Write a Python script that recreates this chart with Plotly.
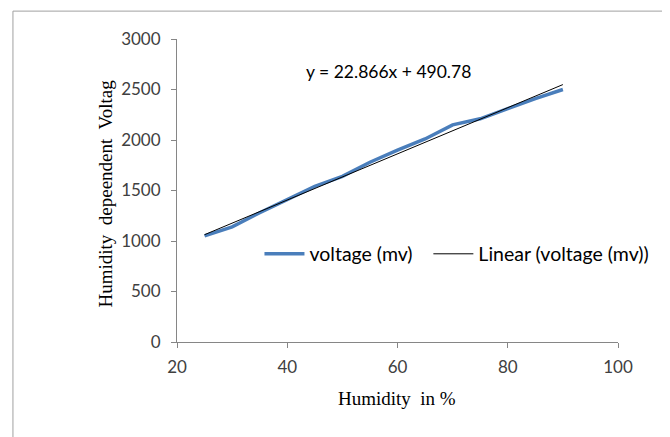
import plotly.graph_objects as go

humidity = [25, 30, 35, 40, 45, 50, 55, 60, 65, 70, 75, 80, 85, 90]
voltage_mv = [1050, 1140, 1280, 1410, 1540, 1640, 1780, 1900, 2010, 2150, 2210, 2310, 2410, 2500]
trend_slope = 22.866
trend_intercept = 490.78
x_ticks = [20, 40, 60, 80, 100]
y_ticks = [0, 500, 1000, 1500, 2000, 2500, 3000]

trend_x = [humidity[0], humidity[-1]]
trend_y = [trend_slope * v + trend_intercept for v in trend_x]

fig = go.Figure()
fig.add_trace(go.Scatter(
    x=humidity, y=voltage_mv, mode="lines", name="voltage (mv)",
    line=dict(color="#4a7ebb", width=3.5), legend="legend",
))
fig.add_trace(go.Scatter(
    x=trend_x, y=trend_y, mode="lines", name="Linear (voltage (mv))",
    line=dict(color="#000000", width=1), legend="legend2",
))

axis_common = dict(
    showgrid=False, zeroline=False, showline=True, linecolor="#868686", linewidth=1,
    ticks="outside", ticklen=5, tickcolor="#868686",
    tickfont=dict(family="Lato", size=17, color="#404040"),
)

legend_common = dict(
    orientation="h", y=0.29, xanchor="left", yanchor="middle",
    bgcolor="rgba(0,0,0,0)", font=dict(family="Lato", size=19.5, color="#000000"),
    itemwidth=40,
)

fig.update_layout(
    width=662, height=429,
    margin=dict(l=169, r=52, t=31, b=95),
    paper_bgcolor="white", plot_bgcolor="white",
    xaxis=dict(range=[20, 100], tickvals=x_ticks, ticklabelstandoff=5, **axis_common),
    yaxis=dict(range=[0, 3000], tickvals=y_ticks, ticklabelstandoff=7, **axis_common),
    showlegend=True,
    legend=dict(x=0.187, **legend_common),
    legend2=dict(x=0.570, **legend_common),
    annotations=[
        dict(text="y = 22.866x + 490.78", xref="paper", yref="paper",
             x=0.48, y=0.892, xanchor="center", yanchor="middle", showarrow=False,
             font=dict(family="Lato", size=17.5, color="#000000")),
        dict(text="Humidity  in %", xref="paper", yref="paper",
             x=0.499, y=0, yshift=-56, xanchor="center", yanchor="middle", showarrow=False,
             font=dict(family="Liberation Serif", size=19, color="#000000")),
        dict(text="Humidity  depeendent  Voltag", xref="paper", yref="paper",
             x=0, xshift=-71, y=0.49, xanchor="center", yanchor="middle", textangle=-90,
             showarrow=False,
             font=dict(family="Liberation Serif", size=19, color="#000000")),
    ],
    shapes=[
        dict(type="rect", xref="paper", yref="paper",
             x0=-0.372, x1=1.107, y0=-0.33, y1=1.092,
             line=dict(color="#a0a0a0", width=1), fillcolor="rgba(0,0,0,0)", layer="below"),
    ],
)

fig.write_html("out.html")
